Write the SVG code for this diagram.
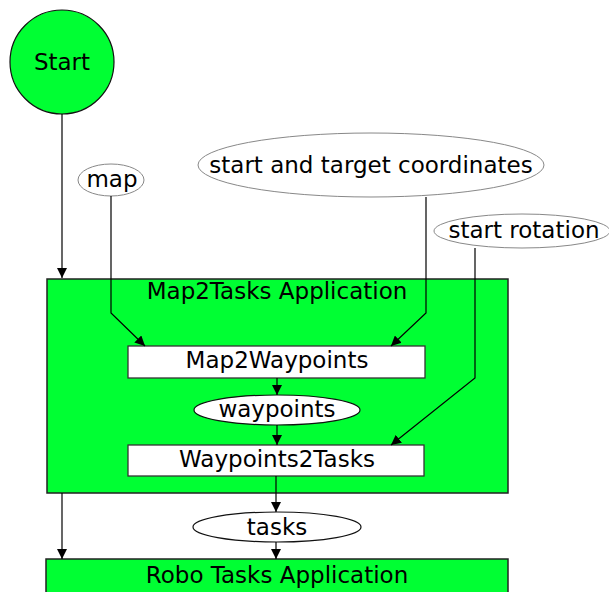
<svg xmlns="http://www.w3.org/2000/svg" width="609" height="592" viewBox="0 0 609 592">
  <style>
    text { font-family: "DejaVu Sans", "Liberation Sans", sans-serif; font-size: 23px; fill: #000; text-anchor: middle; }
    .app { fill: #00ff33; stroke: #222; stroke-width: 1.5; }
    .proc { fill: #fff; stroke: #333; stroke-width: 1.3; }
    .input { fill: #fff; stroke: #888; stroke-width: 1; }
    .data { fill: #fff; stroke: #111; stroke-width: 1.2; }
    .edge { fill: none; stroke: #000; stroke-width: 1.2; marker-end: url(#arrow); }
  </style>
  <defs>
    <marker id="arrow" viewBox="0 0 10 10" refX="10" refY="5" markerWidth="10" markerHeight="10" markerUnits="userSpaceOnUse" orient="auto">
      <path d="M0,0 L10,5 L0,10 Z" fill="#000"/>
    </marker>
  </defs>

  <g id="start">
    <circle cx="62" cy="62" r="52" fill="#00ff33" stroke="#111" stroke-width="1.2"/>
    <text x="62" y="70">Start</text>
  </g>

  <g id="map">
    <ellipse class="input" cx="111" cy="180" rx="33" ry="16"/>
    <text x="112" y="187">map</text>
  </g>

  <g id="coordinates">
    <ellipse class="input" cx="371" cy="165" rx="173" ry="32"/>
    <text x="371" y="173">start and target coordinates</text>
  </g>

  <g id="rotation">
    <ellipse class="input" cx="522" cy="231" rx="88" ry="17"/>
    <text x="524" y="238">start rotation</text>
  </g>

  <g id="map2tasks">
    <rect class="app" x="47" y="279" width="461" height="214"/>
    <text x="277" y="299">Map2Tasks Application</text>
  </g>

  <g id="map2waypoints">
    <rect class="proc" x="128" y="346" width="297" height="32"/>
    <text x="277" y="368">Map2Waypoints</text>
  </g>

  <g id="waypoints">
    <ellipse class="data" cx="277" cy="410" rx="83" ry="15"/>
    <text x="277" y="417">waypoints</text>
  </g>

  <g id="waypoints2tasks">
    <rect class="proc" x="128" y="445" width="296" height="31"/>
    <text x="277" y="467">Waypoints2Tasks</text>
  </g>

  <g id="tasks">
    <ellipse class="data" cx="277" cy="527" rx="84" ry="15"/>
    <text x="277" y="535">tasks</text>
  </g>

  <g id="robotasks">
    <rect class="app" x="46" y="559" width="462" height="50"/>
    <text x="277" y="583">Robo Tasks Application</text>
  </g>

  <g id="connectors">
    <path class="edge" d="M62,114 L62,278"/>
    <path class="edge" d="M111,196 L111,313 L145,346"/>
    <path class="edge" d="M426,197 L426,313 L391,346"/>
    <path class="edge" d="M475,248 L475,378 L391,445"/>
    <path class="edge" d="M277,378 L277,395"/>
    <path class="edge" d="M277,425 L277,445"/>
    <path class="edge" d="M276,476 L276,512"/>
    <path class="edge" d="M276,542 L276,559"/>
    <path class="edge" d="M62,493 L62,559"/>
  </g>
</svg>
